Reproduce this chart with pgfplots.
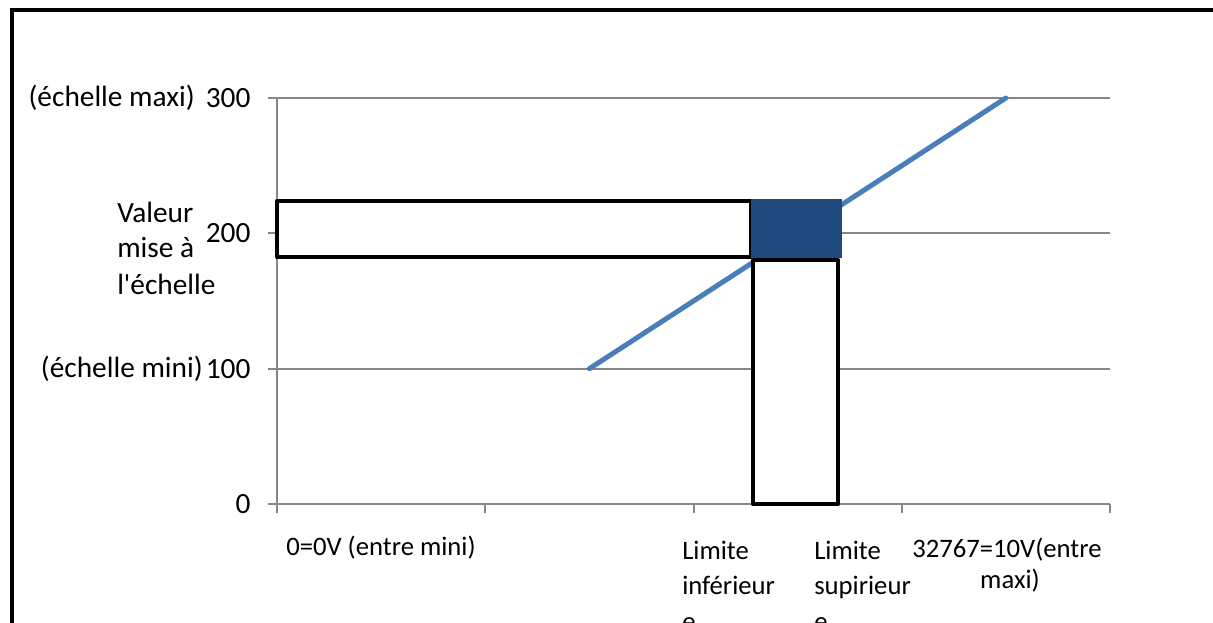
\documentclass[border=0pt]{standalone}
\usepackage{fontspec}
\setmainfont{Carlito}
\newfontfamily\carl{Carlito}
\usepackage{pgfplots}
\pgfplotsset{compat=1.18}
\definecolor{lineblue}{HTML}{4A7EBB}
\definecolor{darkblue}{HTML}{1F497D}
\definecolor{gridgray}{HTML}{868686}
\begin{document}
\begin{tikzpicture}
\useasboundingbox (0,0) rectangle (909.75pt,466.5pt);
\begin{axis}[
  at={(207.75pt,88.5pt)}, anchor=south west,
  scale only axis, width=624.75pt, height=304.5pt,
  xmin=0, xmax=4, ymin=0, ymax=300,
  clip=false,
  axis x line*=bottom, axis y line*=left,
  axis line style={gridgray, line width=1.5pt, -},
  xtick={0,1,2,3,4}, xticklabels={},
  ytick={0,100,200,300},
  tick align=outside, major tick length=6.75pt,
  tick style={gridgray, line width=1.5pt},
  ymajorgrids, grid style={gridgray, line width=1.5pt},
  /pgf/number format/assume math mode=true,
  yticklabel style={font=\carl\fontsize{22}{26}\selectfont, anchor=east, inner sep=0pt, xshift=-13pt},
]
\addplot[lineblue, line width=3.75pt, line cap=round] coordinates {(1.5,100) (3.5,300)};
\addplot[fill=white, draw=black, line width=3pt, line join=round] coordinates {(0,182.5) (2.276,182.5) (2.276,224) (0,224)} -- cycle;
\addplot[fill=darkblue, draw=darkblue, line width=0.5pt] coordinates {(2.276,182.5) (2.708,182.5) (2.708,225.4) (2.276,225.4)} -- cycle;
\addplot[fill=white, draw=black, line width=3pt, line join=round] coordinates {(2.285,0) (2.695,0) (2.695,180) (2.285,180)} -- cycle;
\end{axis}
\begin{scope}[x=0.75pt, y=-0.75pt, yshift=466.5pt, font=\carl\fontsize{22}{26}\selectfont]
  \node[anchor=base east, inner sep=0pt] at (195,107) {(échelle maxi)};
  \node[anchor=base west, inner sep=0pt] at (117,223) {Valeur};
  \node[anchor=base west, inner sep=0pt] at (117,258) {mise à};
  \node[anchor=base west, inner sep=0pt] at (117,294) {l'échelle};
  \node[anchor=base east, inner sep=0pt] at (203,377) {(échelle mini)};
\end{scope}
\begin{scope}[x=0.75pt, y=-0.75pt, yshift=466.5pt, font=\carl\fontsize{20}{24}\selectfont]
  \node[anchor=base west, inner sep=0pt] at (286,555) {0=0V (entre mini)};
  \node[anchor=base west, inner sep=0pt] at (682,559) {Limite};
  \node[anchor=base west, inner sep=0pt] at (682,594) {inférieur};
  \node[anchor=base west, inner sep=0pt] at (682,630) {e};
  \node[anchor=base west, inner sep=0pt] at (814,559) {Limite};
  \node[anchor=base west, inner sep=0pt] at (814,594) {supirieur};
  \node[anchor=base west, inner sep=0pt] at (814,630) {e};
  \node[anchor=base west, inner sep=0pt] at (912,557) {32767=10V(entre};
  \node[anchor=base, inner sep=0pt] at (1010,588) {maxi)};
  \draw[line width=3pt] (12,640) -- (12,10.5) -- (1230,10.5);
\end{scope}
\end{tikzpicture}
\end{document}
